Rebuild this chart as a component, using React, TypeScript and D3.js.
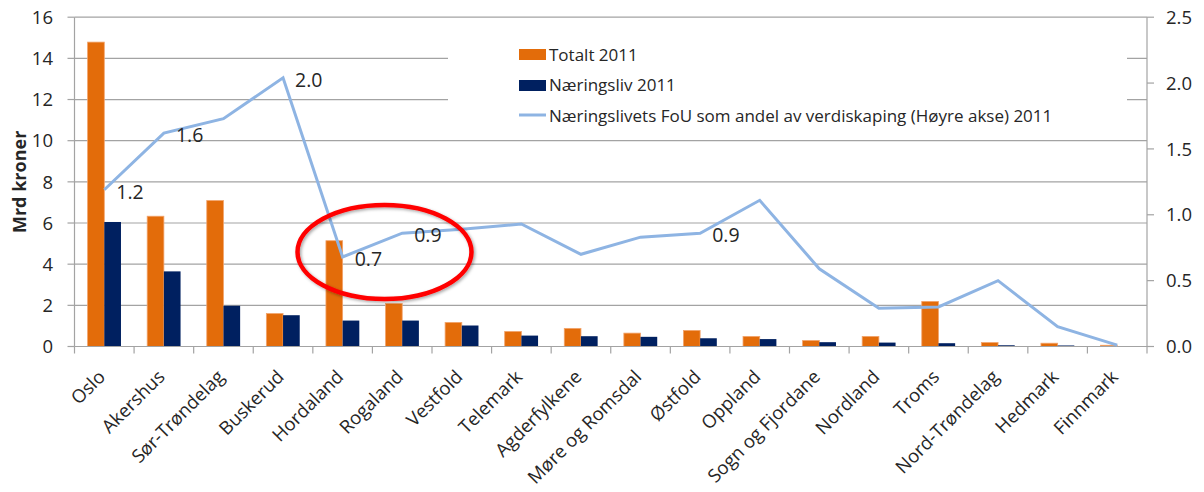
import React from "react";
import * as d3 from "d3";

const categories = [
  "Oslo", "Akershus", "Sør-Trøndelag", "Buskerud", "Hordaland", "Rogaland",
  "Vestfold", "Telemark", "Agderfylkene", "Møre og Romsdal", "Østfold", "Oppland",
  "Sogn og Fjordane", "Nordland", "Troms", "Nord-Trøndelag", "Hedmark", "Finnmark",
];
const totalt2011 = [14.79, 6.33, 7.09, 1.6, 5.14, 2.09, 1.17, 0.73, 0.88, 0.65, 0.78, 0.49, 0.29, 0.49, 2.19, 0.19, 0.16, 0.06];
const naeringsliv2011 = [6.05, 3.65, 1.98, 1.52, 1.26, 1.26, 1.02, 0.53, 0.5, 0.47, 0.4, 0.36, 0.21, 0.19, 0.16, 0.06, 0.05, 0.01];
const andelVerdiskaping = [1.19, 1.62, 1.73, 2.04, 0.68, 0.86, 0.89, 0.93, 0.7, 0.83, 0.86, 1.11, 0.59, 0.29, 0.3, 0.5, 0.15, 0.01];
const labelledPoints = [
  { index: 0, text: "1.2" },
  { index: 1, text: "1.6" },
  { index: 3, text: "2.0" },
  { index: 4, text: "0.7" },
  { index: 5, text: "0.9" },
  { index: 10, text: "0.9" },
];
const leftTicks = [0, 2, 4, 6, 8, 10, 12, 14, 16];
const rightTicks = [0, 0.5, 1, 1.5, 2, 2.5];
const legendLabels = [
  "Totalt 2011",
  "Næringsliv 2011",
  "Næringslivets FoU som andel av verdiskaping (Høyre akse) 2011",
];
const yTitle = "Mrd kroner";

const W = 1204;
const H = 492;
const M = { left: 74.5, right: 1147, top: 17.2, bottom: 346.5 };
const ORANGE = "#E36C0A";
const NAVY = "#002060";
const LINE = "#8EB4E3";
const GRID = "#A3A3A3";
const TEXT = "#262626";
const FONT = "'Open Sans', 'DejaVu Sans', sans-serif";

export default function App() {
  const x = d3.scaleBand<string>().domain(categories).range([M.left, M.right]);
  const yL = d3.scaleLinear().domain([0, 16]).range([M.bottom, M.top]);
  const yR = d3.scaleLinear().domain([0, 2.5]).range([M.bottom, M.top]);
  const bw = x.bandwidth() * 0.28;
  const cx = (c: string) => (x(c) as number) + x.bandwidth() / 2;

  const line = d3
    .line<number>()
    .x((_, i) => cx(categories[i]))
    .y((d) => yR(d));

  const boundaries = d3.range(categories.length + 1).map((i) => M.left + i * x.bandwidth());

  return (
    <svg
      width={W}
      height={H}
      style={{ position: "absolute", left: 0, top: 0, background: "#fff" }}
      fontFamily={FONT}
    >
      <defs>
        <filter id="shadow" x="-20%" y="-20%" width="140%" height="140%">
          <feDropShadow dx="1.5" dy="1.5" stdDeviation="1.5" floodColor="#000" floodOpacity="0.35" />
        </filter>
      </defs>
      <rect width={W} height={H} fill="#fff" />
      {/* gridlines */}
      {leftTicks.map((t) => (
        <line key={t} x1={M.left} x2={M.right} y1={yL(t)} y2={yL(t)} stroke={GRID} strokeWidth={1.2} />
      ))}
      {/* legend background covering gridlines */}
      <rect x={448} y={24} width={679} height={108} fill="#fff" />
      {/* left axis */}
      <line x1={M.left} x2={M.left} y1={M.top} y2={M.bottom} stroke={GRID} strokeWidth={1.2} />
      {leftTicks.map((t) => (
        <g key={t}>
          <line x1={M.left - 7} x2={M.left} y1={yL(t)} y2={yL(t)} stroke={GRID} strokeWidth={1.2} />
          <text x={53} y={yL(t)} dy="0.36em" textAnchor="end" fontSize={18.5} fill={TEXT}>
            {t}
          </text>
        </g>
      ))}
      {/* right axis */}
      <line x1={M.right} x2={M.right} y1={M.top} y2={M.bottom} stroke={GRID} strokeWidth={1.2} />
      {rightTicks.map((t) => (
        <g key={t}>
          <line x1={M.right} x2={M.right + 7} y1={yR(t)} y2={yR(t)} stroke={GRID} strokeWidth={1.2} />
          <text x={1166} y={yR(t)} dy="0.36em" textAnchor="start" fontSize={18.5} fill={TEXT}>
            {t.toFixed(1)}
          </text>
        </g>
      ))}
      {/* y title */}
      <text
        transform={`translate(26, ${(M.top + M.bottom) / 2}) rotate(-90)`}
        textAnchor="middle"
        fontSize={18}
        fontWeight="bold"
        fill={TEXT}
      >
        {yTitle}
      </text>
      {/* bars */}
      {categories.map((c, i) => (
        <g key={c}>
          <rect
            x={cx(c) - bw}
            y={yL(totalt2011[i])}
            width={bw}
            height={yL(0) - yL(totalt2011[i])}
            fill={ORANGE}
            stroke="#F2A36B"
            strokeWidth={0.8}
          />
          <rect
            x={cx(c)}
            y={yL(naeringsliv2011[i])}
            width={bw}
            height={yL(0) - yL(naeringsliv2011[i])}
            fill={NAVY}
          />
        </g>
      ))}
      {/* x axis */}
      <line x1={M.left} x2={M.right} y1={M.bottom} y2={M.bottom} stroke={GRID} strokeWidth={1.2} />
      {boundaries.map((b, i) => (
        <line key={i} x1={b} x2={b} y1={M.bottom} y2={M.bottom + 7} stroke={GRID} strokeWidth={1.2} />
      ))}
      {categories.map((c) => (
        <text
          key={c}
          transform={`translate(${cx(c) + 2}, 378) rotate(-45)`}
          textAnchor="end"
          fontSize={18.5}
          fill={TEXT}
        >
          {c}
        </text>
      ))}
      {/* line series */}
      <path d={line(andelVerdiskaping) || ""} fill="none" stroke={LINE} strokeWidth={3} strokeLinejoin="miter" />
      {labelledPoints.map((p) => (
        <text
          key={p.index}
          x={cx(categories[p.index]) + 12}
          y={yR(andelVerdiskaping[p.index]) + 2}
          dy="0.36em"
          fontSize={19.5}
          fill={TEXT}
        >
          {p.text}
        </text>
      ))}
      {/* legend */}
      <rect x={519} y={49} width={27} height={11} fill={ORANGE} />
      <rect x={519} y={80} width={27} height={11} fill={NAVY} />
      <line x1={519} x2={546} y1={115} y2={115} stroke={LINE} strokeWidth={3} />
      {legendLabels.map((l, i) => (
        <text key={l} x={549} y={54.5 + i * 30.5} dy="0.36em" fontSize={17} fill={TEXT}>
          {l}
        </text>
      ))}
      {/* red ellipse highlight */}
      <ellipse cx={384.5} cy={252} rx={87} ry={47} fill="none" stroke="#FF0000" strokeWidth={4.5} filter="url(#shadow)" />
    </svg>
  );
}
